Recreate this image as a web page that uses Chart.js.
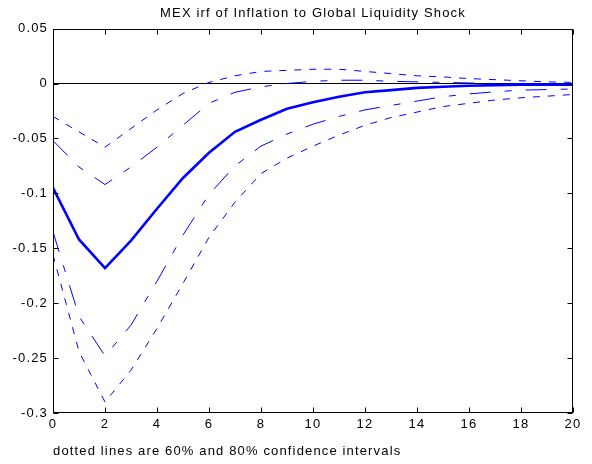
<!DOCTYPE html>
<html><head><meta charset="utf-8">
<script src="https://cdn.jsdelivr.net/npm/chart.js@4.4.1/dist/chart.umd.min.js"></script>
<style>html,body{margin:0;padding:0;background:#fff;}#wrap{width:592px;height:464px;}</style>
</head><body><div id="wrap"><canvas id="c" width="592" height="464"></canvas></div>
<script>
const horizons = [0,1,2,3,4,5,6,7,8,9,10,11,12,13,14,15,16,17,18,19,20];
const irf     = [-0.095,-0.142,-0.168,-0.143,-0.114,-0.086,-0.063,-0.044,-0.033,-0.023,-0.017,-0.012,-0.008,-0.006,-0.004,-0.003,-0.002,-0.0015,-0.001,-0.001,-0.001];
const upper60 = [-0.052,-0.076,-0.092,-0.076,-0.058,-0.038,-0.018,-0.008,-0.003,0.000,0.002,0.003,0.003,0.002,0.0015,0.001,0.0005,0.0,0.0,-0.0005,-0.001];
const lower60 = [-0.135,-0.212,-0.248,-0.220,-0.180,-0.138,-0.101,-0.075,-0.057,-0.046,-0.037,-0.030,-0.024,-0.020,-0.016,-0.012,-0.0095,-0.0075,-0.006,-0.0055,-0.005];
const upper80 = [-0.030,-0.044,-0.058,-0.041,-0.024,-0.009,0.001,0.007,0.011,0.012,0.013,0.013,0.011,0.009,0.007,0.006,0.0045,0.0035,0.0025,0.0015,0.001];
const lower80 = [-0.156,-0.244,-0.290,-0.261,-0.223,-0.182,-0.140,-0.108,-0.082,-0.068,-0.057,-0.047,-0.038,-0.031,-0.026,-0.021,-0.018,-0.015,-0.013,-0.0115,-0.010];
const zeroLine = [0,0];
const zeroX = [0,20];
const xTicks = [0,2,4,6,8,10,12,14,16,18,20];
const yTicks = [0.05,0,-0.05,-0.1,-0.15,-0.2,-0.25,-0.3];
const titleText = 'MEX irf of Inflation to Global Liquidity Shock';
const noteText = 'dotted lines are 60% and 80% confidence intervals';

const FONT = '"Liberation Sans", Arial, Helvetica, sans-serif';
const pts = (xs, ys) => xs.map((x,i)=>({x:x, y:ys[i]}));

const spacing = {
  id:'spacing',
  beforeInit(chart){ chart.ctx.letterSpacing = '1.15px'; },
  beforeDraw(chart){ chart.ctx.letterSpacing = '1.15px'; }
};

const boxTicks = {
  id:'boxTicks',
  afterDraw(chart){
    const {ctx, chartArea:a, scales:{x,y}} = chart;
    ctx.save();
    ctx.strokeStyle='#000'; ctx.lineWidth=1;
    const L=Math.round(a.left)+0.5, R=Math.round(a.right)-0.5, T=Math.round(a.top)+0.5, B=Math.round(a.bottom)-0.5;
    ctx.strokeRect(L,T,R-L,B-T);
    ctx.beginPath();
    x.ticks.forEach(t=>{const px=Math.round(x.getPixelForValue(t.value))+0.5; ctx.moveTo(px,B); ctx.lineTo(px,B-5); ctx.moveTo(px,T); ctx.lineTo(px,T+5);});
    y.ticks.forEach(t=>{const py=Math.round(y.getPixelForValue(t.value))+0.5; ctx.moveTo(L,py); ctx.lineTo(L+5,py); ctx.moveTo(R,py); ctx.lineTo(R-5,py);});
    ctx.stroke();
    ctx.restore();
  }
};

const dash80 = [7,8];
const dash60 = [21,14,7,14];
const blue = '#0000ff';
const lineDs = (data, width, dash) => ({data: pts(horizons, data), borderColor: blue, borderWidth: width, borderDash: dash, pointRadius: 0, fill: false, tension: 0});

new Chart(document.getElementById('c'), {
  type: 'line',
  data: {
    datasets: [
      lineDs(irf, 2.6, []),
      lineDs(upper60, 1, dash60),
      lineDs(lower60, 1, dash60),
      lineDs(upper80, 1, dash80),
      lineDs(lower80, 1, dash80),
      {data: pts(zeroX, zeroLine), borderColor:'#000', borderWidth:1, pointRadius:0, fill:false}
    ]
  },
  options: {
    responsive: false,
    devicePixelRatio: 1,
    animation: false,
    layout: {padding: {left:0, right:19, top:0, bottom:0}},
    plugins: {
      legend: {display:false},
      tooltip: {enabled:false},
      title: {display:true, text:titleText, fullSize:false, color:'#000', font:{family:FONT, size:13, weight:'normal'}, padding:{top:6, bottom:7}}
    },
    scales: {
      x: {
        type:'linear', min:0, max:20,
        afterBuildTicks: s => { s.ticks = xTicks.map(v=>({value:v})); },
        afterFit: s => { s.height = 51; },
        ticks: {color:'#000', font:{family:FONT, size:13}, padding:4, maxRotation:0, callback: v => String(v)},
        grid: {display:false, drawTicks:false},
        border: {display:false},
        title: {display:true, text:noteText, align:'start', color:'#000', font:{family:FONT, size:13}, padding:{top:0, bottom:5}}
      },
      y: {
        type:'linear', min:-0.3, max:0.05,
        afterBuildTicks: s => { s.ticks = yTicks.map(v=>({value:v})); },
        afterFit: s => { s.width = 53; },
        ticks: {color:'#000', font:{family:FONT, size:13}, padding:5, callback: v => String(parseFloat(Number(v).toFixed(2)))},
        grid: {display:false, drawTicks:false},
        border: {display:false}
      }
    }
  },
  plugins: [spacing, boxTicks]
});
</script></body></html>
